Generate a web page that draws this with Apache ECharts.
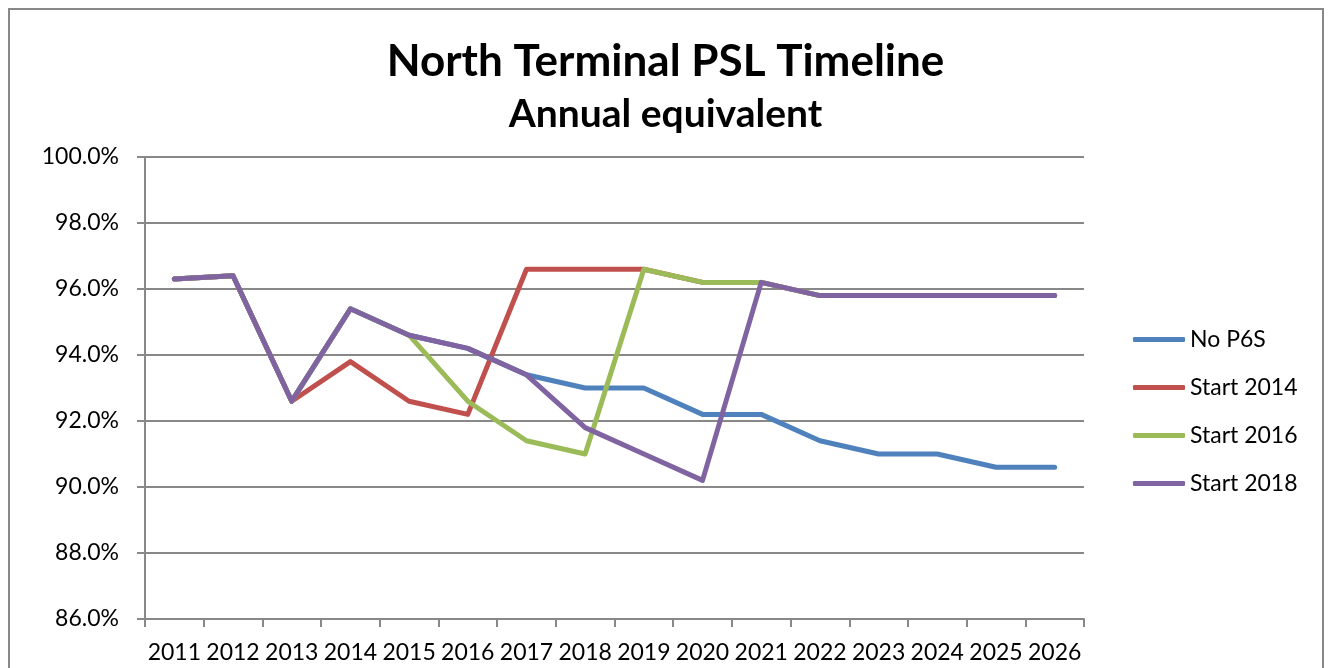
<!DOCTYPE html>
<html>
<head>
<meta charset="utf-8">
<script src="https://cdn.jsdelivr.net/npm/echarts@6/dist/echarts.min.js"></script>
<style>
html,body{margin:0;padding:0;background:#fff;}
#frame{position:absolute;left:8px;top:8px;width:1316px;height:680px;border:2px solid #888;box-sizing:border-box;}
#chart{position:absolute;left:0;top:0;width:1331px;height:668px;}
</style>
</head>
<body>
<div id="frame"></div>
<div id="chart"></div>
<script>
const years = ['2011','2012','2013','2014','2015','2016','2017','2018','2019','2020','2021','2022','2023','2024','2025','2026'];
const noP6S     = [96.3, 96.4, 92.6, 95.4, 94.6, 94.2, 93.4, 93.0, 93.0, 92.2, 92.2, 91.4, 91.0, 91.0, 90.6, 90.6];
const start2014 = [96.3, 96.4, 92.6, 93.8, 92.6, 92.2, 96.6, 96.6, 96.6, 96.2, 96.2, 95.8, 95.8, 95.8, 95.8, 95.8];
const start2016 = [96.3, 96.4, 92.6, 95.4, 94.6, 92.6, 91.4, 91.0, 96.6, 96.2, 96.2, 95.8, 95.8, 95.8, 95.8, 95.8];
const start2018 = [96.3, 96.4, 92.6, 95.4, 94.6, 94.2, 93.4, 91.8, 91.0, 90.2, 96.2, 95.8, 95.8, 95.8, 95.8, 95.8];
const seriesNames = ['No P6S', 'Start 2014', 'Start 2016', 'Start 2018'];
const colors = ['#4F81BD', '#C0504D', '#9BBB59', '#8064A2'];
const yTicks = {min: 86, max: 100, interval: 2};

const chart = echarts.init(document.getElementById('chart'));
const font = 'Lato, "Open Sans", sans-serif';
const mk = (name, data, i) => ({
  name: name, type: 'line', data: data, symbol: 'none', z: 2 + i,
  lineStyle: {color: colors[i], width: 5, cap: 'round', join: 'round'},
  itemStyle: {color: colors[i]},
  animation: false
});
chart.setOption({
  animation: false,
  title: [
    {text: 'North Terminal PSL Timeline', left: 'center', top: 35,
     textStyle: {fontFamily: font, fontWeight: 'bold', fontSize: 44, color: '#000'}},
    {text: 'Annual equivalent', left: 'center', top: 90,
     textStyle: {fontFamily: font, fontWeight: 'bold', fontSize: 39, color: '#000'}}
  ],
  legend: {
    orient: 'vertical', left: 1128, top: 323, itemWidth: 52, itemHeight: 5, itemGap: 25,
    icon: 'roundRect',
    data: seriesNames,
    textStyle: {fontFamily: font, fontSize: 23, color: '#000', padding: [0,0,0,0]}
  },
  grid: {left: 145, right: 247, top: 157, bottom: 49},
  xAxis: {
    type: 'category', data: years, boundaryGap: true,
    axisLine: {lineStyle: {color: '#888', width: 2}},
    axisTick: {show: true, length: 8, lineStyle: {color: '#888', width: 2}},
    axisLabel: {fontFamily: font, fontSize: 23, color: '#000', margin: 22, interval: 0}
  },
  yAxis: {
    type: 'value', min: yTicks.min, max: yTicks.max, interval: yTicks.interval,
    axisLine: {show: true, lineStyle: {color: '#888', width: 2}},
    axisTick: {show: true, length: 8, lineStyle: {color: '#888', width: 2}},
    splitLine: {lineStyle: {color: '#888', width: 2}},
    axisLabel: {fontFamily: font, fontSize: 23, color: '#000', margin: 26,
      formatter: v => v.toFixed(1) + '%'}
  },
  series: [mk(seriesNames[0], noP6S, 0), mk(seriesNames[1], start2014, 1),
           mk(seriesNames[2], start2016, 2), mk(seriesNames[3], start2018, 3)]
});
</script>
</body>
</html>
